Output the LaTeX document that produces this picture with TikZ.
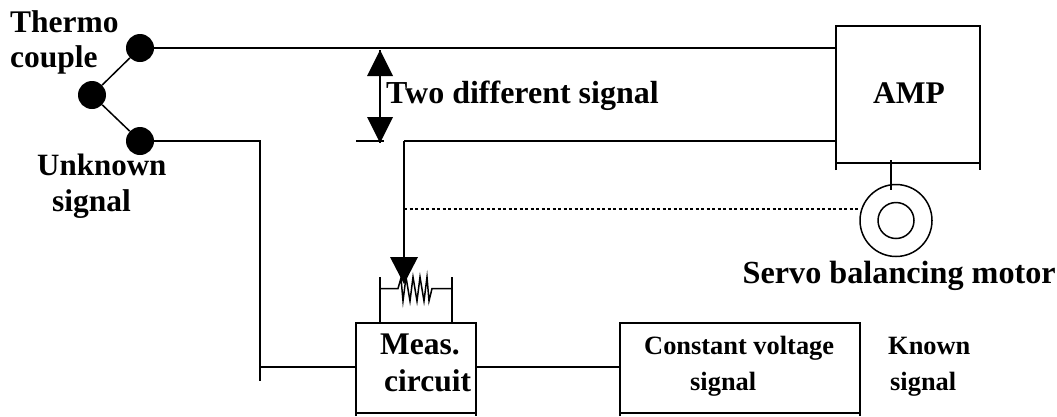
\documentclass[tikz,border=0pt]{standalone}
\usepackage{fontspec}
\setmainfont{Liberation Serif}
\begin{document}
\begin{tikzpicture}[x=1pt,y=-1pt,
  wire/.style={line width=1.5pt,black},
  dot/.style={circle,fill=black,inner sep=0pt,minimum size=28pt},
  tri/.style={fill=black,draw=none},
  lab/.style={inner sep=0pt,font=\bfseries\fontsize{31.5}{36}\selectfont,align=left,anchor=base west},
  labs/.style={inner sep=0pt,font=\bfseries\fontsize{26.4}{30}\selectfont,anchor=base west}]
\useasboundingbox (0,0) rectangle (1057,416);
% nodes
\node[dot] (d1) at (140,48) {};
\node[dot] (d2) at (92,95) {};
\node[dot] (d3) at (140,141) {};
\coordinate (ampTL) at (836,26); \coordinate (ampTR) at (980,26);
\coordinate (ampBL) at (836,170); \coordinate (ampBR) at (980,170);
\coordinate (amp1) at (836,48); \coordinate (amp2) at (836,141);
\coordinate (j1) at (404,141); \coordinate (j2) at (404,262);
\coordinate (k1) at (260,141); \coordinate (k2) at (260,381); \coordinate (k3) at (260,367);
\coordinate (stub1) at (356,141); \coordinate (stub2) at (384,141);
% thermocouple
\draw[wire] (d2) -- (d1);
\draw[wire] (d2) -- (d3);
\draw[wire] (d1) -- (amp1);
\draw[wire] (d3) -- (k1) -- (k2);
\draw[wire] (j1) -- (amp2);
\draw[wire] (stub1) -- (stub2);
\draw[wire] (j1) -- (j2);
% two-way arrow
\coordinate (a1) at (380,50); \coordinate (a2) at (380,143);
\draw[wire] (a1) -- (a2);
\fill[tri] (a1) -- (393,76) -- (367,76) -- cycle;
\fill[tri] (a2) -- (393,117) -- (367,117) -- cycle;
% AMP
\draw[wire] (ampBL) -- (ampTL) -- (ampTR) -- (ampBR);
\draw[wire] (836,163) -- (980,163);
\node[lab] (ampt) at (873,103) {AMP};
% motor
\node[circle,draw,line width=1.5pt,minimum size=72pt,inner sep=0pt] (mot) at (896,220.5) {};
\node[circle,draw,line width=1.5pt,minimum size=36pt,inner sep=0pt] (moti) at (896,220.5) {};
\coordinate (ms) at (891,160); \coordinate (me) at (891,190);
\draw[wire] (ms) -- (me);
\coordinate (dl) at (404,209);
\draw[line width=1.5pt,dash pattern=on 3pt off 2.5pt] (dl) -- (mot.west |- dl);
\node[lab] at (742.5,283) {\fontsize{32.2}{36}\selectfont Servo balancing motor};
% boxes
\draw[wire] (356,416) -- (356,323) -- (476,323) -- (476,416);
\draw[wire] (356,413) -- (476,413);
\node[lab] at (380,354) {Meas.};
\node[lab] at (384,391) {circuit};
\draw[wire] (620,416) -- (620,323) -- (860,323) -- (860,416);
\draw[wire] (620,413) -- (860,413);
\node[labs] at (644,354) {Constant voltage};
\node[labs] at (690,390) {signal};
\node[labs] at (888,354) {Known};
\node[labs] at (890,390) {signal};
\draw[wire] (k3) -- (356,367);
\draw[wire] (476,367) -- (620,367);
% resistor
\draw[wire] (380,277) -- (380,323);
\draw[wire] (452,277) -- (452,323);
\draw[line width=1.5pt] (380,288.5) -- (398,288.5) -- (401,278) -- (403,301) -- (406,277) -- (410,301) -- (413,277) -- (417,301) -- (420,277) -- (424,301) -- (427,277) -- (429,301) -- (432,288.5) -- (452,288.5);
\fill[tri] (404,284) -- (418,257) -- (390,257) -- cycle;
% labels
\node[lab] at (10,32) {Thermo};
\node[lab] at (10,67) {couple};
\node[lab] at (37,175) {\fontsize{31}{36}\selectfont Unknown};
\node[lab] at (52,211) {signal};
\node[lab] at (386,103) {\fontsize{32}{36}\selectfont Two different signal};
\end{tikzpicture}
\end{document}
